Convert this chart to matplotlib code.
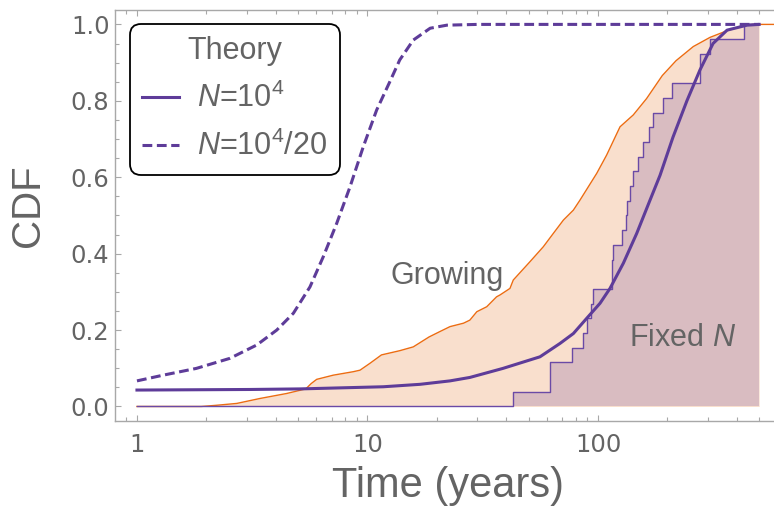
import numpy as np
import matplotlib
matplotlib.use("Agg")
import matplotlib.pyplot as plt
from matplotlib.lines import Line2D
from matplotlib.ticker import FixedLocator, NullFormatter, MultipleLocator, LogLocator

# ---------------------------------------------------------------- data
# Fixed-population simulation: sampled times (years) of the 26 events
fixed_times = [42.7, 61.9, 61.9, 76.9, 85.8, 89.9, 93.0, 95.4, 114.7, 114.7,
               116.5, 126.7, 132.3, 134.0, 137.7, 142.3, 149.1, 156.8, 167.0,
               172.4, 190.9, 209.4, 277.8, 277.8, 306.2, 431.2]

# Growing-population empirical CDF
growing_t = [1.0, 1.9, 2.2, 2.71, 3.42, 4.46, 5.4, 5.7, 6.02, 7.11, 8.67, 9.28,
             10.25, 11.5, 13.8, 15.8, 18.5, 20.6, 22.8, 26.1, 27.8, 29.8, 32.9,
             36.3, 37.6, 41.5, 42.9, 50.7, 57.9, 64.0, 70.8, 78.2, 83.5, 98.7,
             109.0, 124.6, 142.2, 162.5, 190.0, 218.0, 259.0, 306.0, 361.0,
             430.0, 470.0, 700.0]
growing_cdf = [0.0, 0.0, 0.003, 0.008, 0.021, 0.034, 0.046, 0.060, 0.071, 0.082,
               0.091, 0.095, 0.113, 0.135, 0.146, 0.156, 0.182, 0.196, 0.209,
               0.218, 0.226, 0.248, 0.261, 0.287, 0.292, 0.309, 0.331, 0.379,
               0.418, 0.453, 0.488, 0.514, 0.540, 0.610, 0.658, 0.732, 0.763,
               0.806, 0.866, 0.905, 0.942, 0.966, 0.983, 0.997, 1.0, 1.0]

# Theory, N = 10^4
theory_t = [1.0, 3.09, 5.1, 11.7, 16.9, 22.8, 27.8, 38.7, 56.0, 68.4, 78.2, 89.4,
            102.0, 112.7, 128.8, 147.2, 168.1, 185.8, 211.5, 243.0, 277.0,
            315.5, 363.0, 443.0, 500.0]
theory_cdf = [0.043, 0.0445, 0.046, 0.0516, 0.058, 0.067, 0.076, 0.0997, 0.130,
              0.165, 0.191, 0.231, 0.270, 0.309, 0.375, 0.453, 0.540, 0.605,
              0.705, 0.800, 0.881, 0.950, 0.985, 0.998, 1.0]

# Theory, N = 10^4/20
small_t = [1.0, 1.30, 1.81, 2.53, 3.31, 4.04, 4.77, 5.63, 6.43, 7.35, 8.40, 9.59,
           10.96, 12.5, 13.8, 15.8, 18.7, 22.1, 30.0, 500.0]
small_cdf = [0.067, 0.082, 0.0997, 0.126, 0.161, 0.200, 0.244, 0.313, 0.392,
             0.479, 0.575, 0.680, 0.776, 0.850, 0.907, 0.959, 0.990, 0.998,
             1.0, 1.0]

t_start, t_end = 1.0, 500.0
x_ticks = [1, 10, 100]
x_ticklabels = ["1", "10", "100"]
y_ticks = [0.0, 0.2, 0.4, 0.6, 0.8, 1.0]

# ---------------------------------------------------------------- style
plt.rcParams["font.family"] = ["Liberation Sans", "DejaVu Sans"]
plt.rcParams["mathtext.fontset"] = "custom"
plt.rcParams["mathtext.rm"] = "Liberation Sans"
plt.rcParams["mathtext.it"] = "Liberation Sans:italic"

TEXT = "#646464"
AXIS = "#a8a8a8"
PURPLE = "#5e3c99"
STEP_PURPLE = "#6a4aa6"
ORANGE = "#ec6c12"
ORANGE_FILL = "#f9dfcd"
MAUVE_FILL = "#d9bcc1"

W, H = 774, 516
fig = plt.figure(figsize=(W / 100, H / 100), dpi=100)
ax_l, ax_b, ax_t = 115, 421, 10
ax = fig.add_axes([ax_l / W, (H - ax_b) / H, 1 - ax_l / W, (ax_b - ax_t) / H])

# empirical CDF of the fixed-N events
n = len(fixed_times)
fixed_x = np.concatenate([[t_start], np.sort(fixed_times), [t_end]])
fixed_y = np.concatenate([[0.0], np.arange(1, n + 1) / n, [1.0]])

# fills
g_t = np.array(growing_t)
g_c = np.array(growing_cdf)
mask = g_t <= t_end
ax.fill_between(np.append(g_t[mask], t_end), np.append(g_c[mask], 1.0), 0,
                color=ORANGE_FILL, lw=0, zorder=1)
ax.fill_between(fixed_x, fixed_y, 0, step="post", color=MAUVE_FILL, lw=0, zorder=2)

# curves
ax.plot(growing_t, growing_cdf, color=ORANGE, lw=1.0, zorder=3)
ax.plot(fixed_x, fixed_y, drawstyle="steps-post", color=STEP_PURPLE, lw=1.0, zorder=4)
ax.plot(small_t, small_cdf, color=PURPLE, lw=2.2, dashes=(3.2, 1.5), zorder=5)
ax.plot(theory_t, theory_cdf, color=PURPLE, lw=2.2, zorder=5)

# axes
ax.set_xscale("log")
ax.set_xlim(0.803, 580)
ax.set_ylim(-0.038, 1.0377)
ax.xaxis.set_major_locator(FixedLocator(x_ticks))
ax.set_xticklabels(x_ticklabels)
ax.xaxis.set_minor_locator(LogLocator(base=10, subs=np.arange(2, 10)))
ax.xaxis.set_minor_formatter(NullFormatter())
ax.yaxis.set_major_locator(FixedLocator(y_ticks))
ax.set_yticklabels([f"{v:.1f}" for v in y_ticks])
ax.yaxis.set_minor_locator(MultipleLocator(0.05))

for side in ["left", "bottom", "top"]:
    ax.spines[side].set_color(AXIS)
    ax.spines[side].set_linewidth(1.0)
ax.spines["right"].set_visible(False)

ax.tick_params(which="both", direction="in", top=True, right=False,
               color=AXIS, width=0.8, labelcolor=TEXT)
ax.tick_params(which="major", length=4.3)
ax.tick_params(which="minor", length=2.6)
ax.tick_params(axis="x", which="major", pad=9)
ax.tick_params(axis="y", which="major", pad=4)
for lab in ax.get_xticklabels() + ax.get_yticklabels():
    lab.set_fontfamily("DejaVu Sans")
    lab.set_fontsize(17.5)

fig.text(448.5 / W, (H - 497) / H, "Time (years)", fontsize=30, color=TEXT,
         ha="center", va="baseline")
fig.text(28 / W, 1 - 206 / H, "CDF", fontsize=29, color=TEXT,
         ha="center", va="center", rotation=90)

# region labels
ax.text(22.2, 0.32, "Growing", fontsize=22, color=TEXT, ha="center", va="baseline", zorder=6)
ax.text(232.6, 0.159, "Fixed $N$", fontsize=22, color=TEXT, ha="center", va="baseline", zorder=6)

# legend
handles = [Line2D([], [], color=PURPLE, lw=2.2),
           Line2D([], [], color=PURPLE, lw=2.2, dashes=(3.2, 1.5))]
labels = ["$N$=10$^4$", "$N$=10$^4$/20"]
ax_w = W - ax_l
ax_h = ax_b - ax_t
leg = ax.legend(handles, labels, title="Theory", loc="upper left",
                bbox_to_anchor=((130 - ax_l) / ax_w, (ax_b - 24) / ax_h),
                borderaxespad=0, fontsize=22, title_fontsize=22,
                frameon=True, fancybox=True, framealpha=1, edgecolor="black",
                handlelength=1.2, handletextpad=0.6, labelspacing=0.55,
                borderpad=0.4)
leg.get_frame().set_linewidth(1.3)
leg.get_frame().set_boxstyle("round,pad=0,rounding_size=0.35")
leg.get_title().set_color(TEXT)
for t in leg.get_texts():
    t.set_color(TEXT)
leg.set_zorder(10)

fig.savefig("out.png", dpi=100)
